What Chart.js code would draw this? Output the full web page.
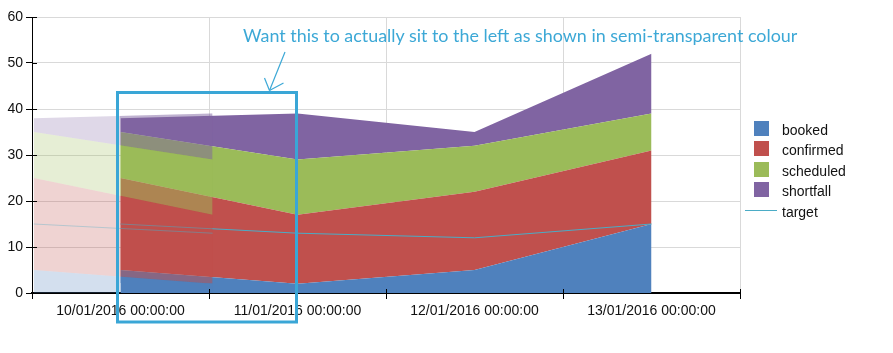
<!DOCTYPE html>
<html lang="en">
<head>
  <meta charset="UTF-8">
  <title>Stacked bookings</title>
  <script src="https://cdn.jsdelivr.net/npm/chart.js"></script>
  <style>
    body {
      margin: 0;
      background: #fff;
      font-family: 'Liberation Sans', Arial, sans-serif;
    }

    .wrap {
      position: relative;
      width: 893px;
      height: 353px;
    }

    .wrap canvas, .wrap svg {
      position: absolute;
      left: 0;
      top: 0;
    }

    /* second copy of the faded series, only visible inside the boxed area */
    #ghost {
      clip-path: inset(100px 679px 70px 120px);
      pointer-events: none;
    }

    .note {
      position: absolute;
      left: 243px;
      top: 24px;
      font-family: Lato, 'Open Sans', sans-serif;
      font-size: 17.9px;
      color: #3ca8d6;
      white-space: nowrap;
    }

    .legend .row {
      position: absolute;
      left: 745px;
      height: 20px;
      line-height: 20px;
      font-size: 14px;
      color: #111;
    }

    .legend .box {
      position: absolute;
      left: 9px;
      top: 1px;
      width: 15px;
      height: 15px;
    }

    .legend .line {
      position: absolute;
      left: 0;
      top: 8px;
      width: 32px;
      height: 1px;
    }

    .legend .txt {
      position: absolute;
      left: 37px;
      top: 0;
    }
  </style>
</head>
<body>

  <div class="wrap">
    <canvas id="chart" width="893" height="353"></canvas>
    <canvas id="ghost" width="893" height="353"></canvas>
    <svg width="893" height="353">
      <rect x="117.5" y="92.5" width="179" height="229.5" fill="none" stroke="#3aa6d6" stroke-width="3"/>
      <g stroke="#3ca8d6" stroke-width="1.2" fill="none">
        <line x1="285" y1="52" x2="269.5" y2="90.5"/>
        <line x1="269.5" y1="90.5" x2="264.5" y2="78"/>
        <line x1="269.5" y1="90.5" x2="283.5" y2="83"/>
      </g>
    </svg>
    <div class="note">Want this to actually sit to the left as shown in semi-transparent colour</div>
    <div class="legend" id="legend"></div>
  </div>

  <script>
    const labels = ['10/01/2016 00:00:00', '11/01/2016 00:00:00', '12/01/2016 00:00:00', '13/01/2016 00:00:00'];
    const booked = [5, 2, 5, 15];
    const confirmed = [20, 15, 17, 16];
    const scheduled = [10, 12, 10, 8];
    const shortfall = [3, 10, 3, 13];
    const target = [15, 13, 12, 15];
    const yTicks = [0, 10, 20, 30, 40, 50, 60];

    // faded copy of the first two points, shifted about half a category left
    const ghostX = [-0.49, 0.52];

    const colours = {
      booked: '#4f81bd',
      confirmed: '#c0504d',
      scheduled: '#9bbb59',
      shortfall: '#8064a2',
      target: '#4bacc6'
    };

    const font = { family: "'Liberation Sans', Arial, sans-serif", size: 14 };

    function rgba(hex, a) {
      const n = parseInt(hex.slice(1), 16);
      return `rgba(${n >> 16}, ${(n >> 8) & 255}, ${n & 255}, ${a})`;
    }

    function area(label, data, fill, alpha, extra) {
      return Object.assign({
        label: label,
        data: data,
        backgroundColor: alpha ? rgba(colours[label], alpha) : colours[label],
        borderWidth: 0,
        pointRadius: 0,
        pointHoverRadius: 0,
        fill: fill,
        tension: 0
      }, extra);
    }

    function ghostSets(alpha, lineAlpha) {
      const pts = arr => ghostX.map((x, i) => ({ x: x, y: arr[i] }));
      const g = { xAxisID: 'x2', stack: 'ghost', order: 1 };
      return [
        area('booked', pts(booked), 'origin', alpha, g),
        area('confirmed', pts(confirmed), '-1', alpha, g),
        area('scheduled', pts(scheduled), '-1', alpha, g),
        area('shortfall', pts(shortfall), '-1', alpha, g),
        {
          label: 'target',
          data: pts(target),
          xAxisID: 'x2',
          stack: 'ghostTarget',
          order: 0,
          borderColor: rgba(colours.target, lineAlpha),
          borderWidth: 1,
          pointRadius: 0,
          fill: false
        }
      ];
    }

    const realSets = [
      area('booked', booked, 'origin', 0, { stack: 'main', order: 3 }),
      area('confirmed', confirmed, '-1', 0, { stack: 'main', order: 3 }),
      area('scheduled', scheduled, '-1', 0, { stack: 'main', order: 3 }),
      area('shortfall', shortfall, '-1', 0, { stack: 'main', order: 3 }),
      {
        label: 'target',
        data: target,
        stack: 'target',
        order: 2,
        borderColor: colours.target,
        borderWidth: 1,
        pointRadius: 0,
        fill: false
      }
    ];

    function scales(visible) {
      const ink = visible ? '#111' : 'transparent';
      return {
        x: {
          type: 'category',
          offset: true,
          grid: {
            offset: true,
            display: visible,
            color: '#d9d9d9',
            tickColor: '#000',
            tickLength: 6
          },
          border: { display: visible, color: '#000', width: 2 },
          ticks: { color: ink, font: font, maxRotation: 0, autoSkip: false, padding: 4 },
          afterFit: s => { s.height = 60; }
        },
        x2: { type: 'linear', display: false, min: -0.5, max: 3.5 },
        y: {
          stacked: true,
          min: 0,
          max: 60,
          afterBuildTicks: s => { s.ticks = yTicks.map(v => ({ value: v })); },
          grid: {
            display: visible,
            color: '#d9d9d9',
            tickColor: '#000',
            tickLength: 6
          },
          border: { display: visible, color: '#000', width: 1 },
          ticks: { color: ink, font: font, padding: 3 },
          afterFit: s => { s.width = 32; }
        }
      };
    }

    // short tick marks that cross into the plot, as in the original
    const innerTicks = {
      id: 'innerTicks',
      afterDatasetsDraw(chart) {
        const { ctx, scales: { x, y } } = chart;
        const step = x.width / labels.length;
        ctx.save();
        ctx.strokeStyle = '#000';
        ctx.lineWidth = 1;
        ctx.beginPath();
        yTicks.forEach(v => {
          const py = Math.round(y.getPixelForValue(v)) + 0.5;
          ctx.moveTo(x.left, py);
          ctx.lineTo(x.left + 5, py);
        });
        for (let i = 0; i <= labels.length; i++) {
          const px = Math.round(x.left + i * step) + 0.5;
          ctx.moveTo(px, y.bottom - 4);
          ctx.lineTo(px, y.bottom);
        }
        ctx.stroke();
        ctx.restore();
      }
    };

    const baseOptions = {
      responsive: false,
      animation: false,
      layout: { padding: { left: 0, top: 17, right: 153, bottom: 0 } },
      plugins: { legend: { display: false }, tooltip: { enabled: false } }
    };

    new Chart(document.getElementById('chart'), {
      type: 'line',
      data: { labels: labels, datasets: realSets.concat(ghostSets(0.25, 0.35)) },
      options: Object.assign({}, baseOptions, { scales: scales(true) }),
      plugins: [innerTicks]
    });

    new Chart(document.getElementById('ghost'), {
      type: 'line',
      data: { labels: labels, datasets: ghostSets(0.33, 0.3) },
      options: Object.assign({}, baseOptions, { scales: scales(false) })
    });

    // legend
    const legend = document.getElementById('legend');
    ['booked', 'confirmed', 'scheduled', 'shortfall', 'target'].forEach((name, i) => {
      const row = document.createElement('div');
      row.className = 'row';
      row.style.top = (119.5 + i * 20.6) + 'px';
      const mark = document.createElement('div');
      mark.className = name === 'target' ? 'line' : 'box';
      mark.style.background = colours[name];
      const txt = document.createElement('div');
      txt.className = 'txt';
      txt.textContent = name;
      row.appendChild(mark);
      row.appendChild(txt);
      legend.appendChild(row);
    });
  </script>

</body>
</html>
